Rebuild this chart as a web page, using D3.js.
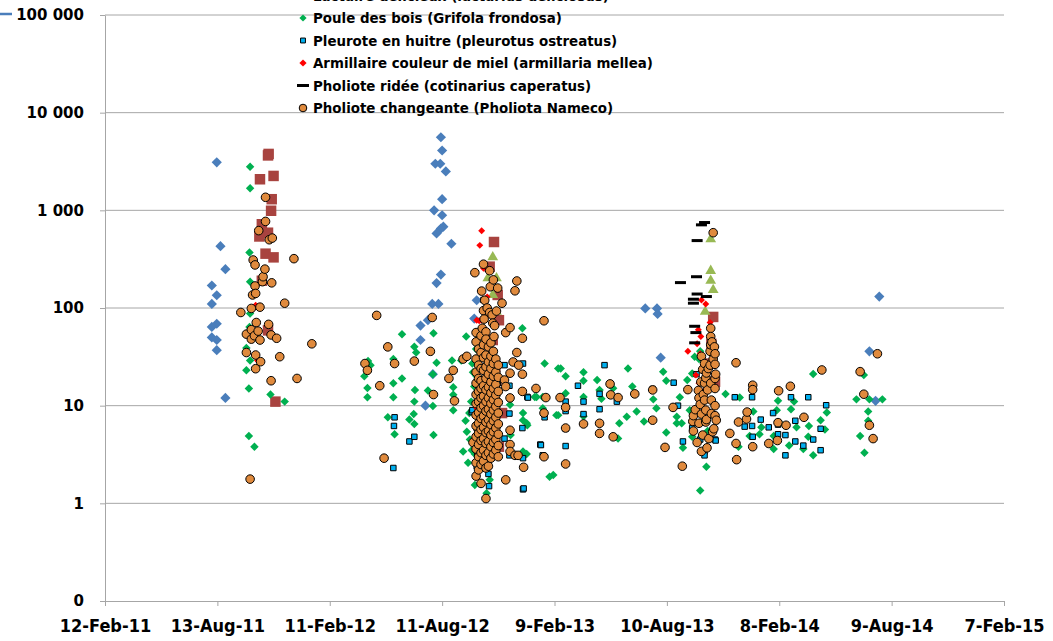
<!DOCTYPE html>
<html>
<head>
<meta charset="utf-8">
<script src="https://cdnjs.cloudflare.com/ajax/libs/d3/7.8.5/d3.min.js"></script>
<style>
  body { margin: 0; background: #fff; }
  svg { display: block; }
</style>
</head>
<body>
<svg id="chart" width="1053" height="641"></svg>
<script>
// axis values
const yTicks = [0.1, 1, 10, 100, 1000, 10000, 100000]
const yTickLabels = ['0', '1', '10', '100', '1 000', '10 000', '100 000']
const xTickDates = ['2011-02-12', '2011-08-13', '2012-02-11', '2012-08-11', '2013-02-09',
  '2013-08-10', '2014-02-08', '2014-08-09', '2015-02-07']

// series whose legend entries are cut off at the top of the picture
const serieBleue = [
  ['2011-08-12', 3100], ['2011-08-18', 430], ['2011-08-26', 250], ['2011-08-04', 170],
  ['2011-08-12', 135], ['2011-08-04', 110], ['2011-08-12', 69], ['2011-08-04', 64],
  ['2011-08-04', 50], ['2011-08-12', 47], ['2011-08-12', 37], ['2011-08-26', 12],
  ['2012-08-09', 5600], ['2012-08-11', 4100], ['2012-07-31', 3000], ['2012-08-08', 3000],
  ['2012-08-17', 2500], ['2012-08-11', 1300], ['2012-07-29', 1000], ['2012-08-11', 890],
  ['2012-08-13', 680], ['2012-08-09', 650], ['2012-08-02', 580], ['2012-08-26', 455],
  ['2012-08-09', 220], ['2012-08-02', 180], ['2012-07-26', 110], ['2012-08-05', 110],
  ['2012-10-06', 120], ['2012-10-02', 78], ['2012-07-19', 75], ['2012-07-07', 66],
  ['2012-07-07', 47], ['2012-07-27', 21], ['2012-07-15', 10],
  ['2013-07-06', 99], ['2013-07-25', 99], ['2013-07-26', 87], ['2013-07-31', 31],
  ['2014-07-20', 131], ['2014-07-04', 36], ['2014-07-14', 11.2]
]

const serieRouge = [
  ['2011-11-04', 3780], ['2011-11-03', 3650], ['2011-10-21', 2080], ['2011-11-12', 2250],
  ['2011-11-09', 1300], ['2011-11-08', 990], ['2011-10-24', 720], ['2011-11-03', 590],
  ['2011-10-20', 540], ['2011-10-30', 360], ['2011-11-12', 330], ['2011-10-24', 190],
  ['2011-11-03', 59], ['2011-11-15', 11],
  ['2012-11-03', 474], ['2012-10-27', 265], ['2012-11-09', 136], ['2012-11-11', 75],
  ['2012-11-01', 47], ['2012-11-05', 25], ['2012-11-07', 18], ['2012-11-16', 8.4], ['2012-11-11', 3.8],
  ['2013-10-24', 81], ['2013-10-21', 43], ['2013-10-19', 27], ['2013-10-27', 17.6]
]

const lactaire = [
  ['2012-11-01', 343], ['2012-10-24', 209], ['2012-11-07', 209], ['2012-11-01', 141], ['2012-11-07', 95],
  ['2013-10-20', 525], ['2013-10-20', 249], ['2013-10-20', 197], ['2013-10-24', 159], ['2013-10-11', 95]
]

const pouleDesBois = [
  ['2011-10-05', 2800], ['2011-10-05', 1680], ['2011-10-04', 370], ['2011-10-05', 186],
  ['2011-10-05', 88], ['2011-10-04', 64], ['2011-09-29', 39], ['2011-10-05', 29],
  ['2011-09-29', 23], ['2011-10-03', 15], ['2011-11-07', 13], ['2011-11-30', 11],
  ['2011-10-03', 4.9], ['2011-10-12', 3.8],
  ['2012-04-07', 20], ['2012-04-12', 15.2], ['2012-04-12', 12.2], ['2012-04-13', 28.6], ['2012-04-17', 26],
  ['2012-05-15', 7.6], ['2012-05-24', 30], ['2012-05-24', 17], ['2012-05-24', 12.2], ['2012-05-26', 5.1],
  ['2012-06-07', 54], ['2012-06-07', 19], ['2012-06-19', 7.2], ['2012-06-26', 8.2],
  ['2012-06-27', 40], ['2012-06-27', 11], ['2012-06-27', 6.5], ['2012-06-28', 14.5], ['2012-06-30', 35],
  ['2012-07-19', 14.3], ['2012-07-27', 21], ['2012-07-27', 9.9], ['2012-07-28', 55], ['2012-07-28', 5],
  ['2012-08-02', 27.5], ['2012-08-27', 29], ['2012-08-29', 15.4], ['2012-08-29', 12.9], ['2012-08-29', 9],
  ['2012-09-11', 29], ['2012-09-14', 3.4], ['2012-09-18', 7], ['2012-09-19', 51], ['2012-09-20', 5.4],
  ['2012-09-22', 2.6], ['2012-09-24', 8.4], ['2012-09-25', 4.5], ['2012-09-27', 11], ['2012-09-28', 3.5],
  ['2012-09-29', 27], ['2012-09-30', 22], ['2012-10-02', 15.7], ['2012-10-03', 1.54], ['2012-10-03', 3.2],
  ['2012-10-05', 38], ['2012-10-06', 20], ['2012-10-08', 48], ['2012-10-09', 12], ['2012-10-11', 60],
  ['2012-10-11', 2.37], ['2012-10-13', 6], ['2012-10-18', 4.2], ['2012-10-20', 9.5], ['2012-10-22', 1.27],
  ['2012-10-24', 3], ['2012-10-27', 1.74], ['2012-11-02', 5.5],
  ['2012-11-29', 10.2], ['2012-11-30', 5], ['2012-12-19', 62], ['2012-12-20', 8.4], ['2012-12-20', 7.1],
  ['2012-12-20', 3.4], ['2012-12-26', 6.6], ['2012-12-26', 3.2], ['2012-12-27', 6.3],
  ['2013-01-08', 12.3], ['2013-01-11', 12.3], ['2013-01-21', 12.3], ['2013-01-21', 9.4], ['2013-01-24', 27],
  ['2013-02-01', 1.87], ['2013-02-07', 1.95], ['2013-02-12', 8], ['2013-02-15', 24], ['2013-02-15', 8],
  ['2013-02-19', 24], ['2013-02-27', 20], ['2013-02-27', 13.4],
  ['2013-03-28', 22], ['2013-03-28', 18], ['2013-03-28', 12.3], ['2013-03-28', 7.8],
  ['2013-04-19', 18.3], ['2013-04-23', 14.5], ['2013-04-26', 11.8],
  ['2013-05-15', 15.1], ['2013-05-23', 4.6], ['2013-05-25', 6.6],
  ['2013-06-06', 7.7], ['2013-06-08', 24], ['2013-06-15', 15.7], ['2013-06-22', 8.7],
  ['2013-07-04', 6.9], ['2013-07-19', 11.6], ['2013-07-24', 9.4],
  ['2013-08-04', 22.3], ['2013-08-09', 18], ['2013-08-09', 5.3], ['2013-08-26', 7.7], ['2013-08-26', 6.6],
  ['2013-08-31', 12.2], ['2013-09-03', 6.6], ['2013-09-05', 3.7], ['2013-09-12', 18.3], ['2013-09-16', 9],
  ['2013-09-20', 21.4], ['2013-09-20', 4.8], ['2013-09-24', 31.7], ['2013-10-01', 30], ['2013-10-03', 36],
  ['2013-10-03', 1.35], ['2013-10-06', 12], ['2013-10-09', 7], ['2013-10-13', 2.37], ['2013-10-15', 5.5],
  ['2013-11-13', 13.2], ['2013-12-04', 3.8], ['2013-12-06', 12.1], ['2013-12-22', 4.9], ['2013-12-28', 8.7],
  ['2014-01-07', 5.1], ['2014-01-10', 6], ['2014-01-30', 4.9], ['2014-01-30', 3.6], ['2014-02-04', 9],
  ['2014-02-06', 11.2], ['2014-02-09', 6.6], ['2014-02-24', 3.9], ['2014-02-27', 9.2], ['2014-03-04', 11],
  ['2014-03-08', 6], ['2014-03-19', 3.6], ['2014-03-27', 4.8], ['2014-03-28', 6.2], ['2014-04-04', 21.1],
  ['2014-04-04', 3.1], ['2014-04-16', 7.1], ['2014-04-23', 5.7], ['2014-04-26', 8.5],
  ['2014-06-13', 11.6], ['2014-06-19', 4.9], ['2014-06-25', 20.6], ['2014-06-26', 3.3],
  ['2014-07-02', 8.7], ['2014-07-02', 7], ['2014-07-04', 11.6], ['2014-07-25', 11.6]
]

const pleurote = [
  ['2012-05-24', 2.3], ['2012-05-25', 6.2], ['2012-05-26', 7.6], ['2012-06-19', 4.3], ['2012-06-27', 4.8],
  ['2012-09-28', 8.6], ['2012-09-29', 9], ['2012-10-06', 5.9], ['2012-10-06', 2.4], ['2012-10-07', 5.8],
  ['2012-10-07', 3.2], ['2012-10-08', 3.1], ['2012-10-10', 38], ['2012-10-14', 3.4], ['2012-10-17', 121],
  ['2012-10-25', 2.4], ['2012-10-25', 2], ['2012-10-26', 1.5], ['2012-11-09', 17], ['2012-11-20', 26],
  ['2012-11-20', 4.6], ['2012-11-28', 16], ['2012-11-28', 8.3], ['2012-11-28', 3.1], ['2012-12-19', 5.9],
  ['2012-12-20', 27], ['2012-12-20', 2.9], ['2012-12-20', 1.39], ['2012-12-21', 1.42], ['2012-12-27', 12.3],
  ['2012-12-28', 12.1], ['2013-01-17', 4], ['2013-01-18', 3.95], ['2013-01-21', 3.1], ['2013-01-24', 7.6],
  ['2013-02-27', 11], ['2013-02-27', 8.8], ['2013-02-27', 5.8], ['2013-02-27', 3.86],
  ['2013-03-19', 16], ['2013-03-28', 11], ['2013-03-28', 8.2], ['2013-04-23', 13.2], ['2013-04-23', 9.2],
  ['2013-05-01', 26], ['2013-05-21', 11], ['2013-07-18', 14.8], ['2013-08-21', 17.2], ['2013-08-28', 10],
  ['2013-09-05', 4.3], ['2013-09-20', 5.9], ['2013-09-27', 21], ['2013-10-03', 4.5], ['2013-10-10', 3.4],
  ['2013-10-10', 3.1], ['2013-10-27', 4.5], ['2013-10-28', 4.4], ['2013-11-28', 12.2], ['2013-12-14', 6.1],
  ['2013-12-26', 12.2], ['2013-12-26', 6.2], ['2013-12-27', 4.8], ['2014-01-09', 7.2], ['2014-01-22', 6],
  ['2014-01-29', 8.4], ['2014-02-06', 6.4], ['2014-02-06', 5.1], ['2014-02-18', 5], ['2014-02-18', 3.1],
  ['2014-02-27', 12.2], ['2014-03-06', 7], ['2014-03-06', 4.3], ['2014-03-19', 3.9], ['2014-03-27', 12.2],
  ['2014-04-04', 4.5], ['2014-04-16', 5.8], ['2014-04-16', 3.5], ['2014-04-25', 10.1]
]

const armillaire = [
  ['2011-10-14', 107], ['2011-10-15', 32], ['2011-10-17', 29],
  ['2012-10-14', 618], ['2012-10-11', 438], ['2012-10-17', 255], ['2012-10-27', 240], ['2012-10-23', 130],
  ['2012-10-25', 85], ['2012-10-06', 75], ['2012-10-10', 74], ['2012-10-14', 75], ['2012-10-21', 45],
  ['2012-10-06', 12.9], ['2012-10-06', 9.4],
  ['2013-10-05', 121], ['2013-10-12', 110], ['2013-10-19', 71], ['2013-09-30', 60], ['2013-10-04', 51],
  ['2013-09-28', 43], ['2013-09-13', 36], ['2013-10-03', 34], ['2013-10-07', 25], ['2013-09-26', 20.6],
  ['2013-10-01', 17], ['2013-10-08', 14], ['2013-10-14', 9]
]

const pholioteRidee = [
  ['2013-10-10', 750], ['2013-10-05', 710], ['2013-09-28', 490], ['2013-09-27', 209], ['2013-09-01', 182],
  ['2013-09-28', 139], ['2013-10-13', 131], ['2013-09-22', 123], ['2013-09-22', 112], ['2013-09-24', 65],
  ['2013-09-26', 56], ['2013-09-24', 44]
]

const pholioteChangeante = [
  ['2011-09-20', 90], ['2011-09-29', 54], ['2011-09-29', 35], ['2011-10-05', 1.77], ['2011-10-07', 99],
  ['2011-10-07', 60], ['2011-10-07', 48], ['2011-10-09', 136], ['2011-10-10', 310], ['2011-10-12', 52],
  ['2011-10-13', 276], ['2011-10-13', 168], ['2011-10-14', 141], ['2011-10-14', 33], ['2011-10-14', 23.9],
  ['2011-10-15', 71], ['2011-10-18', 58], ['2011-10-19', 620], ['2011-10-21', 102], ['2011-10-21', 47],
  ['2011-10-22', 28.2], ['2011-10-25', 186], ['2011-10-26', 209], ['2011-10-29', 250], ['2011-10-30', 1360],
  ['2011-10-30', 770], ['2011-11-04', 68], ['2011-11-05', 500], ['2011-11-08', 53], ['2011-11-08', 18],
  ['2011-11-09', 181], ['2011-11-10', 520], ['2011-11-17', 49], ['2011-11-22', 31.7], ['2011-11-30', 112],
  ['2011-12-15', 320], ['2011-12-20', 19], ['2012-01-13', 43],
  ['2012-04-08', 27], ['2012-04-12', 23], ['2012-04-27', 84], ['2012-05-02', 16], ['2012-05-09', 2.9],
  ['2012-05-15', 40], ['2012-05-26', 27], ['2012-06-27', 28.6], ['2012-07-23', 36], ['2012-07-26', 80],
  ['2012-07-28', 13], ['2012-08-22', 19], ['2012-08-29', 23], ['2012-08-31', 11.2], ['2012-09-14', 30],
  ['2012-09-20', 32], ['2012-09-30', 4.2],
  ['2012-10-03', 230],
  ['2012-10-05', 56], ['2012-10-05', 45], ['2012-10-05', 30], ['2012-10-05', 22], ['2012-10-05', 17],
  ['2012-10-05', 13], ['2012-10-05', 10.5], ['2012-10-05', 8], ['2012-10-05', 6.2], ['2012-10-05', 4.8],
  ['2012-10-05', 3.6], ['2012-10-05', 2.6], ['2012-10-05', 1.9],
  ['2012-10-09', 38], ['2012-10-09', 26], ['2012-10-09', 19], ['2012-10-09', 14], ['2012-10-09', 11],
  ['2012-10-09', 8.5], ['2012-10-09', 6.6], ['2012-10-09', 5.2], ['2012-10-09', 4], ['2012-10-09', 3],
  ['2012-10-09', 2.2],
  ['2012-10-13', 52], ['2012-10-13', 35], ['2012-10-13', 24], ['2012-10-13', 18], ['2012-10-13', 15],
  ['2012-10-13', 12], ['2012-10-13', 9.5], ['2012-10-13', 7.4], ['2012-10-13', 5.7], ['2012-10-13', 4.4],
  ['2012-10-13', 3.3], ['2012-10-13', 2.5], ['2012-10-13', 1.6],
  ['2012-10-14', 149], ['2012-10-15', 62],
  ['2012-10-17', 281], ['2012-10-17', 94], ['2012-10-17', 42], ['2012-10-17', 31], ['2012-10-17', 23],
  ['2012-10-17', 16], ['2012-10-17', 12.5], ['2012-10-17', 10], ['2012-10-17', 7.8], ['2012-10-17', 6],
  ['2012-10-17', 4.6], ['2012-10-17', 3.5], ['2012-10-17', 2.7],
  ['2012-10-18', 77], ['2012-10-19', 120],
  ['2012-10-21', 57], ['2012-10-21', 48], ['2012-10-21', 33], ['2012-10-21', 25], ['2012-10-21', 19],
  ['2012-10-21', 14.5], ['2012-10-21', 11], ['2012-10-21', 8.8], ['2012-10-21', 6.8], ['2012-10-21', 5.3],
  ['2012-10-21', 4.1], ['2012-10-21', 3.1], ['2012-10-21', 2.3], ['2012-10-21', 1.12],
  ['2012-10-23', 100],
  ['2012-10-25', 40], ['2012-10-25', 28], ['2012-10-25', 21], ['2012-10-25', 15.5], ['2012-10-25', 12],
  ['2012-10-25', 9.2], ['2012-10-25', 7.2], ['2012-10-25', 5.5], ['2012-10-25', 4.3], ['2012-10-25', 3.3],
  ['2012-10-25', 2.4],
  ['2012-10-27', 241], ['2012-10-27', 90], ['2012-10-28', 165],
  ['2012-10-29', 44], ['2012-10-29', 32], ['2012-10-29', 24], ['2012-10-29', 17.5], ['2012-10-29', 13.5],
  ['2012-10-29', 10.5], ['2012-10-29', 8.2], ['2012-10-29', 6.4], ['2012-10-29', 5], ['2012-10-29', 3.8],
  ['2012-10-29', 2.9],
  ['2012-10-31', 85], ['2012-11-01', 70],
  ['2012-11-02', 194], ['2012-11-02', 36], ['2012-11-02', 27], ['2012-11-02', 20], ['2012-11-02', 15],
  ['2012-11-02', 11.5], ['2012-11-02', 9], ['2012-11-02', 7], ['2012-11-02', 5.4], ['2012-11-02', 4.2],
  ['2012-11-02', 3.2],
  ['2012-11-03', 51], ['2012-11-04', 66],
  ['2012-11-06', 30], ['2012-11-06', 22], ['2012-11-06', 16.5], ['2012-11-06', 12.8], ['2012-11-06', 9.8],
  ['2012-11-06', 7.6], ['2012-11-06', 5.9], ['2012-11-06', 4.5], ['2012-11-06', 3.5],
  ['2012-11-07', 93], ['2012-11-09', 160],
  ['2012-11-10', 26], ['2012-11-10', 19.5], ['2012-11-10', 14], ['2012-11-10', 10.8], ['2012-11-10', 8.4],
  ['2012-11-10', 6.5], ['2012-11-10', 5.1], ['2012-11-10', 3.9], ['2012-11-10', 3],
  ['2012-11-16', 112],
  ['2012-11-20', 18.3], ['2012-11-22', 56], ['2012-11-22', 15.7], ['2012-11-22', 1.74], ['2012-11-29', 63],
  ['2012-11-29', 21.5], ['2012-11-29', 12], ['2012-11-29', 5.6], ['2012-11-29', 4], ['2012-11-29', 3.4],
  ['2012-12-04', 28], ['2012-12-07', 150], ['2012-12-07', 3.1], ['2012-12-10', 189], ['2012-12-10', 35],
  ['2012-12-12', 3.1], ['2012-12-13', 26], ['2012-12-19', 49], ['2012-12-19', 21], ['2012-12-19', 14],
  ['2012-12-21', 2.34], ['2013-01-10', 15], ['2013-01-23', 74], ['2013-01-23', 8.4], ['2013-01-23', 3],
  ['2013-01-26', 12.1], ['2013-02-18', 12.1], ['2013-02-27', 9.6], ['2013-02-27', 5.9], ['2013-02-27', 2.53],
  ['2013-03-28', 6.5], ['2013-04-23', 6.6], ['2013-04-23', 5.2], ['2013-05-10', 16.7], ['2013-05-11', 12.9],
  ['2013-05-15', 4.8], ['2013-05-23', 12.1], ['2013-06-19', 13.2], ['2013-07-18', 14.5], ['2013-07-18', 7.1],
  ['2013-08-07', 3.74], ['2013-08-20', 9.6], ['2013-09-04', 2.4], ['2013-09-13', 14.6],
  ['2013-09-21', 6.9], ['2013-09-22', 7.9], ['2013-09-22', 5.5], ['2013-09-25', 9.1], ['2013-09-28', 4.2],
  ['2013-09-30', 14.3], ['2013-10-01', 12], ['2013-10-01', 6.6], ['2013-10-03', 10.3], ['2013-10-04', 17.5],
  ['2013-10-05', 32], ['2013-10-05', 8.2], ['2013-10-05', 3.4], ['2013-10-07', 23.5], ['2013-10-07', 5],
  ['2013-10-08', 13], ['2013-10-10', 27], ['2013-10-10', 17], ['2013-10-10', 11.4], ['2013-10-12', 19.3],
  ['2013-10-12', 9], ['2013-10-12', 6.8], ['2013-10-13', 21.6], ['2013-10-13', 7.2], ['2013-10-14', 3.7],
  ['2013-10-15', 14.5], ['2013-10-16', 24], ['2013-10-17', 4.6], ['2013-10-19', 36], ['2013-10-19', 26],
  ['2013-10-20', 62], ['2013-10-20', 51], ['2013-10-20', 42], ['2013-10-20', 17], ['2013-10-21', 11.4],
  ['2013-10-21', 8.3], ['2013-10-22', 45], ['2013-10-23', 5.4], ['2013-10-24', 590], ['2013-10-24', 30],
  ['2013-10-25', 5.8], ['2013-10-26', 40], ['2013-10-27', 34], ['2013-10-27', 26.5], ['2013-10-27', 19],
  ['2013-10-27', 15], ['2013-10-27', 10], ['2013-10-27', 7.9], ['2013-10-28', 21], ['2013-10-29', 7.1],
  ['2013-11-20', 5.2], ['2013-11-30', 27.5], ['2013-11-30', 4.1], ['2013-12-01', 2.8], ['2013-12-04', 6.8],
  ['2013-12-17', 7.3], ['2013-12-18', 8.6], ['2013-12-27', 16.2], ['2013-12-27', 14.6], ['2013-12-27', 3.8],
  ['2014-01-22', 4.1], ['2014-02-05', 4.4], ['2014-02-06', 6.7], ['2014-02-07', 14.2], ['2014-02-19', 6.3],
  ['2014-02-26', 15.8], ['2014-03-20', 7.6], ['2014-04-18', 23.2],
  ['2014-06-19', 22.3], ['2014-06-25', 13.1], ['2014-07-04', 6.3], ['2014-07-10', 4.6], ['2014-07-17', 34]
]

const parse = d3.timeParse('%Y-%m-%d')
const fmt = d3.timeFormat('%-d-%b-%y')

// drawing order follows the workbook's series order (last on top)
const series = [
  { name: null, data: serieBleue, shape: 'diamond', size: 52, fill: '#4a7ebb' },
  { name: null, data: serieRouge, shape: 'square', size: 110, fill: '#a8433f' },
  { name: 'Lactaire délicieux (lactarius deliciosus)', data: lactaire, shape: 'triangle', size: 50, fill: '#98b954' },
  { name: 'Poule des bois (Grifola frondosa)', data: pouleDesBois, shape: 'diamond', size: 36, fill: '#00b050' },
  { name: 'Pleurote en huitre (pleurotus ostreatus)', data: pleurote, shape: 'square', size: 30, fill: '#00b0f0', stroke: '#000' },
  { name: 'Armillaire couleur de miel (armillaria mellea)', data: armillaire, shape: 'diamond', size: 24, fill: '#ff0000' },
  { name: 'Pholiote ridée (cotinarius caperatus)', data: pholioteRidee, shape: 'dash', fill: '#000' },
  { name: 'Pholiote changeante (Pholiota Nameco)', data: pholioteChangeante, shape: 'circle', r: 4.3, fill: '#e08a3d', stroke: '#000' }
]

const m = { left: 105, right: 1004, top: 15, bottom: 601 }
const svg = d3.select('#chart')

const x = d3.scaleTime()
  .domain([parse(xTickDates[0]), parse(xTickDates[xTickDates.length - 1])])
  .range([m.left, m.right])
const y = d3.scaleLog()
  .domain([yTicks[0], yTicks[yTicks.length - 1]])
  .range([m.bottom, m.top])

// horizontal gridlines
svg.append('g')
  .selectAll('line')
  .data(yTicks.slice(1))
  .enter()
  .append('line')
  .attr('x1', m.left).attr('x2', m.right)
  .attr('y1', d => y(d)).attr('y2', d => y(d))
  .attr('stroke', '#a6a6a6')
  .attr('stroke-width', 1)

// y axis
const yAxis = svg.append('g')
  .attr('transform', `translate(${m.left},0)`)
  .call(d3.axisLeft(y).tickValues(yTicks).tickFormat((d, i) => yTickLabels[i]).tickSize(5).tickSizeOuter(0).tickPadding(16))
yAxis.selectAll('path, line').attr('stroke', '#a6a6a6')
yAxis.selectAll('text')
  .attr('fill', '#000')
  .style('font', 'bold 15px "DejaVu Sans", sans-serif')

// x axis
const xAxis = svg.append('g')
  .attr('transform', `translate(0,${m.bottom})`)
  .call(d3.axisBottom(x).tickValues(xTickDates.map(parse)).tickFormat(fmt).tickSize(5).tickSizeOuter(0).tickPadding(13))
xAxis.selectAll('path, line').attr('stroke', '#a6a6a6')
xAxis.selectAll('text')
  .attr('fill', '#000')
  .style('font', 'bold 18px "Liberation Sans Narrow", "DejaVu Sans Condensed", sans-serif')

function markPath(s) {
  if (s.shape === 'diamond' || s.shape === 'square') return d3.symbol(d3.symbolSquare, s.size)()
  if (s.shape === 'triangle') return d3.symbol(d3.symbolTriangle, s.size)()
  return null
}

function drawMarks(g, s, pts) {
  if (s.shape === 'circle') {
    g.selectAll('circle').data(pts).enter().append('circle')
      .attr('cx', d => d[0]).attr('cy', d => d[1]).attr('r', s.r)
      .attr('fill', s.fill).attr('stroke', s.stroke).attr('stroke-width', 1)
  } else if (s.shape === 'dash') {
    g.selectAll('rect').data(pts).enter().append('rect')
      .attr('x', d => d[0] - 5.5).attr('y', d => d[1] - 1.5)
      .attr('width', 11).attr('height', 3)
      .attr('fill', s.fill)
  } else {
    const rot = s.shape === 'diamond' ? ' rotate(45)' : ''
    const dy = s.shape === 'triangle' ? 1.5 : 0
    g.selectAll('path').data(pts).enter().append('path')
      .attr('d', markPath(s))
      .attr('transform', d => `translate(${d[0]},${d[1] + dy})${rot}`)
      .attr('fill', s.fill)
      .attr('stroke', s.stroke || 'none')
      .attr('stroke-width', 1)
  }
}

series.forEach(s => {
  const pts = s.data.map(d => [x(parse(d[0])), y(d[1])])
  drawMarks(svg.append('g'), s, pts)
})

// legend (its first entries run off the top of the picture)
const legendItems = series.filter(s => s.name)
const legend = svg.append('g')
legendItems.forEach((s, i) => {
  const cy = -4.5 + i * 22.5
  const g = legend.append('g')
  const copy = Object.assign({}, s)
  if (s.shape === 'circle') copy.r = 3.8
  if (s.shape === 'diamond') copy.size = 26
  if (s.shape === 'square') copy.size = 24
  if (s.shape === 'dash') {
    g.append('rect').attr('x', 297).attr('y', cy - 1.5).attr('width', 12).attr('height', 3).attr('fill', s.fill)
  } else {
    drawMarks(g, copy, [[303, cy]])
  }
  g.append('text')
    .text(s.name)
    .attr('x', 313)
    .attr('y', cy + 5)
    .attr('fill', '#000')
    .style('font', 'bold 13.4px "DejaVu Sans", sans-serif')
})

// stray legend line at the top-left corner
svg.append('line')
  .attr('x1', 0).attr('x2', 12).attr('y1', 14).attr('y2', 14)
  .attr('stroke', '#4a7ebb').attr('stroke-width', 2.5)
</script>
</body>
</html>
